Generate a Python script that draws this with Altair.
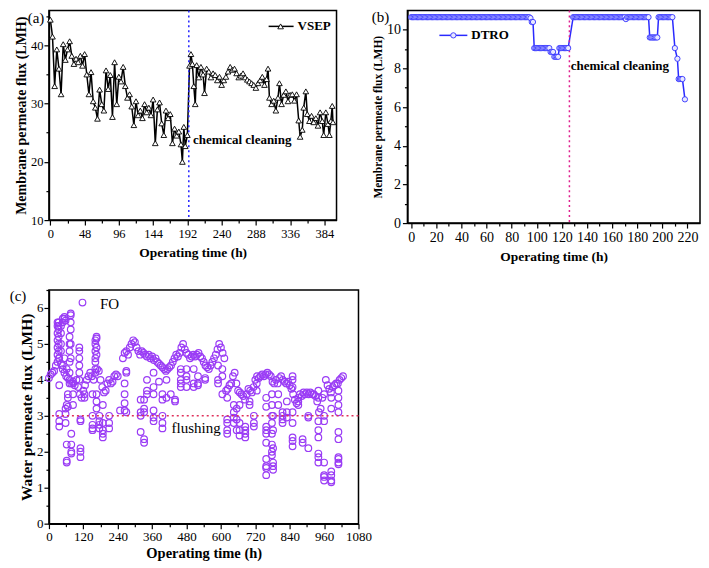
import altair as alt
import pandas as pd

FONT = "Liberation Serif"

# ---------------- Panel (a): VSEP ----------------
vsep_t = [0, 3, 6, 9, 12, 15, 18, 21, 24, 27,
          30, 33, 36, 39, 42, 45, 48, 51, 54, 57,
          60, 63, 66, 69, 72, 75, 78, 81, 84, 87,
          90, 93, 96, 99, 102, 105, 108, 111, 114, 117,
          120, 123, 126, 129, 132, 135, 138, 141, 144, 147,
          150, 153, 156, 159, 162, 165, 168, 171, 174, 177,
          180, 183, 185, 187, 189, 192,
          195, 197, 199, 201, 203, 205, 208, 211, 214, 216,
          219, 222, 225, 228, 231, 234, 237, 240, 243, 246,
          249, 252, 255, 258, 261, 264, 267, 270, 273, 276,
          279, 282, 285, 288, 291, 294, 297, 300, 303, 305,
          307, 310, 313, 316, 319, 321, 324, 327, 330, 333,
          336, 339, 342, 345, 348, 350, 353, 355, 358, 360,
          363, 366, 369, 372, 375, 378, 381, 383, 386, 389,
          391, 393, 395, 396]
vsep_v = [44.4, 41.5, 33.0, 39.3, 36.0, 31.6, 40.2, 37.5, 39.3, 40.7,
          38.2, 36.8, 37.7, 37.1, 38.2, 36.5, 38.5, 35.0, 31.6, 35.4,
          30.4, 29.3, 27.4, 32.4, 29.9, 28.8, 35.7, 32.5, 34.9, 27.7,
          37.1, 29.9, 34.6, 33.8, 36.3, 33.0, 31.0, 31.6, 29.5, 26.3,
          30.4, 28.0, 28.8, 27.5, 29.9, 28.5, 29.3, 28.0, 30.7, 23.2,
          29.0, 30.2, 26.6, 24.6, 28.8, 27.5, 28.2, 23.2, 25.7, 24.5,
          25.2, 23.0, 20.0, 26.0, 22.7, 24.6,
          36.5, 38.5, 36.8, 33.0, 29.9, 36.6, 34.5, 36.3, 35.0, 31.8,
          36.0, 35.5, 34.5, 35.2, 34.9, 34.0, 34.6, 33.2, 34.0, 34.6,
          35.5, 36.3, 35.8, 36.0, 35.2, 34.5, 34.8, 35.2, 34.5, 34.1,
          33.8, 33.5, 33.2, 32.7, 33.5, 34.0, 34.6, 33.2, 34.2, 36.0,
          31.0, 29.9, 30.5, 28.8, 31.0, 33.5, 29.9, 31.5, 32.1, 30.4,
          31.5, 31.6, 30.5, 31.6, 27.1, 24.3, 25.5, 29.3, 32.1, 28.2,
          27.0, 27.9, 26.8, 27.5, 26.2, 28.5, 27.0, 24.6, 28.5, 26.5,
          24.6, 27.0, 29.6, 26.8]
vsep_cleaning_t = [194]

# ---------------- Panel (b): DTRO (runs of equal readings, hourly) ----------------
dtro_run_start = [0, 95, 96, 98, 111, 114, 118, 129, 171, 172, 190, 197, 210, 212, 213, 218]
dtro_run_end = [94, 95, 97, 110, 113, 117, 125, 170, 171, 189, 196, 208, 210, 212, 216, 218]
dtro_run_value = [10.65, 10.6, 10.4, 9.05, 8.85, 8.6, 9.05, 10.65, 10.55, 10.65, 9.6, 10.65,
                  9.05, 8.5, 7.45, 6.4]
dtro_cleaning_t = [126]

# ---------------- Panel (c): FO ----------------
# main band, readings every 6 h (None = no reading)
fo_band_v = [4.05, 4.15, 4.2, 4.25, 4.4, 4.5, 4.6, 4.45, 4.3, 4.2,
             4.1, 4.05, 4.0, 3.9, 3.95, 3.85, 4.0, 3.8, 3.6, 3.5,
             3.7, 3.85, 4.0, 4.1, 4.2, 4.1, 4.0, 4.2, 4.3, 4.25,
             4.0, 3.8, 3.65, 3.7, 3.9, 4.0, 3.9, 3.95, 4.1, 4.15,
             4.1, None, None, 4.6, 4.75, 4.8, 4.7, 4.9, 5.0, 5.1,
             5.05, 4.9, 4.8, 4.7, 4.8, 4.75, 4.7, 4.65, 4.7, 4.6,
             4.65, 4.55, 4.6, 4.5, 4.45, 4.4, 4.35, 4.3, 4.25, 4.3,
             4.35, 4.4, 4.5, 4.6, 4.7, 4.65, 4.75, 4.9, 5.0, 4.85,
             4.75, 4.7, 4.6, 4.65, 4.7, 4.65, 4.7, 4.75, 4.65, 4.6,
             4.5, 4.4, 4.35, 4.3, 4.4, 4.5, 4.6, 4.7, 4.85, 5.0,
             4.9, 4.75, 4.6, 3.7, 3.75, 3.85, 3.9, 4.1, 4.2, 3.9,
             3.7, 3.65, 3.6, 3.55, 3.45, 3.6, 3.75, 3.7, 3.65, 3.8,
             4.0, 4.1, 4.05, 4.1, 4.15, 4.1, 4.15, 4.2, 4.15, 4.1,
             3.95, 3.9, 4.0, 3.9, 4.05, 4.1, 4.0, 3.95, 3.9, 3.95,
             3.85, 3.75, 3.6, 3.45, 3.35, 3.5, 3.6, 3.55, 3.65, 3.6,
             3.65, 3.6, 3.65, 3.6, 3.6, 3.55, 3.4, 3.1, 3.2, 3.5,
             3.6, 4.0, 3.85, 3.75, 3.65, 3.8, 3.85, 3.9, 3.9, 4.0,
             4.05, 4.1]
fo_band_step = 6

# scattered readings (time, values)
fo_scatter = [
    (30, [4.7, 4.9, 5.1, 5.3, 5.5, 5.6]),
    (34, [4.6, 4.8, 5.0, 5.2, 5.4, 5.6, 5.5]),
    (36, [3.85, 3.05, 2.85, 2.7]),
    (42, [5.3, 5.5, 5.0, 4.8]),
    (48, [5.6, 5.7, 4.4]),
    (54, [5.75, 5.7, 4.6]),
    (58, [5.65, 3.2, 3.05, 2.8]),
    (62, [3.3, 2.2, 1.75, 1.7, 4.3]),
    (66, [3.6, 3.5, 3.25]),
    (72, [3.9, 4.2, 4.5, 4.8, 5.0, 5.2]),
    (76, [5.4, 5.6, 5.8, 5.85, 5.0, 4.6]),
    (78, [2.5, 2.2, 2.0, 1.95]),
    (84, [3.3, 3.6, 3.9]),
    (106, [4.9, 4.8, 4.6, 4.4, 4.2, 4.0]),
    (110, [2.9, 2.85, 2.1, 2.0, 1.85]),
    (117, [6.15]),
    (124, [3.5, 3.6]),
    (152, [3.6, 3.0, 2.75, 2.65, 2.6]),
    (162, [5.1, 5.0, 4.8, 4.6, 4.5, 4.3]),
    (166, [5.2, 5.15, 4.9, 4.7, 3.6, 3.4, 3.2]),
    (176, [3.0, 2.85, 2.75, 2.65]),
    (188, [2.8, 2.6, 2.5, 2.4, 3.3]),
    (210, [3.0, 2.8, 2.65]),
    (248, [3.15]),
    (264, [3.9, 3.6, 3.35, 3.15]),
    (270, [4.25, 4.2, 3.1]),
    (320, [3.45, 3.1, 3.0, 2.55]),
    (332, [3.45, 3.2, 3.1, 2.35, 2.25]),
    (342, [4.0, 3.7, 3.6]),
    (365, [4.2, 3.8, 3.6, 3.15, 2.95, 2.85]),
    (384, [3.95]),
    (396, [3.6, 3.45, 3.0, 2.8, 2.65]),
    (410, [4.0, 3.5]),
    (425, [3.6]),
    (440, [3.45, 3.4]),
    (460, [4.3, 4.2, 4.0, 3.9, 3.8]),
    (480, [4.3, 4.1, 4.0, 3.8]),
    (505, [4.3, 3.9, 3.8]),
    (520, [4.1, 3.9, 3.85]),
    (545, [4.05, 4.0]),
    (590, [4.4, 4.0, 3.9]),
    (605, [4.3, 4.1, 3.6]),
    (622, [3.5, 2.9, 2.8, 2.6, 2.5]),
    (645, [3.3, 3.1, 2.95, 2.8]),
    (655, [3.2, 2.9, 2.6]),
    (665, [3.3, 2.8, 2.6, 2.45]),
    (685, [2.7, 2.6, 2.5, 2.4]),
    (700, [3.4, 3.3]),
    (715, [3.0, 2.8, 2.7]),
    (725, [3.9, 3.7]),
    (758, [3.5, 3.25, 2.7, 2.6, 2.5, 2.25, 1.8, 1.6, 1.55, 1.35]),
    (778, [3.6, 3.3, 3.0, 2.8, 2.5, 2.2, 2.0, 1.9]),
    (782, [1.7, 1.5, 1.6, 2.1, 2.6, 3.0]),
    (800, [3.6, 3.3]),
    (815, [3.1, 3.0, 2.9, 2.8]),
    (830, [3.4, 3.1, 2.95]),
    (850, [3.1, 2.8, 2.4, 2.3, 2.15, 3.8, 4.0, 4.1]),
    (870, [3.4, 3.3]),
    (885, [2.35, 2.25]),
    (905, [2.95, 3.0, 2.1]),
    (940, [2.85, 2.6, 2.4, 1.95, 1.85, 1.7, 3.7, 3.5]),
    (960, [3.0, 2.85, 1.7, 1.35, 1.2, 1.3]),
    (985, [3.5, 3.2, 1.45, 1.35, 1.2, 1.15]),
    (1010, [2.55, 2.35, 1.85, 1.8, 1.7, 1.65, 3.1, 3.3, 3.5, 3.7]),
]
fo_flushing_v = [3.0]

# ---------------- tables ----------------
df_a = pd.DataFrame({"t": vsep_t, "v": vsep_v})

b_t, b_v = [], []
for s, e, val in zip(dtro_run_start, dtro_run_end, dtro_run_value):
    for h in range(s, e + 1):
        b_t.append(h)
        b_v.append(val)
df_b = pd.DataFrame({"t": b_t, "v": b_v})

c_rows = []
for i, val in enumerate(fo_band_v):
    if val is not None:
        c_rows.append({"t": i * fo_band_step, "v": val})
for t, vals in fo_scatter:
    for val in vals:
        c_rows.append({"t": t, "v": val})
df_c = pd.DataFrame(c_rows)


def axis(major_vals, title, label_size, title_size, title_pad, label_pad, fmt):
    return alt.Axis(
        values=major_vals, title=title, format=fmt,
        labelFontSize=label_size, titleFontSize=title_size,
        titlePadding=title_pad, labelPadding=label_pad,
        tickSize=5, labelOverlap=False, labelFlush=False, grid=False,
    )


def minor_axis(minor_vals, orient):
    return alt.Axis(values=minor_vals, orient=orient, labels=False, title=None,
                    domain=False, tickSize=3, grid=False)


def minor_layers(xfield_scale, yfield_scale, xminor, yminor, df):
    return alt.Chart(df).mark_point(opacity=0).encode(
        x=alt.X("t:Q", scale=xfield_scale, axis=minor_axis(xminor, "bottom")),
        y=alt.Y("v:Q", scale=yfield_scale, axis=minor_axis(yminor, "left")))


def panel(layers, minor, w, h):
    main = alt.layer(*layers)
    return alt.layer(main, minor).resolve_axis(x="independent", y="independent").properties(
        width=w, height=h)


# ---------------- panel a ----------------
sx_a = alt.Scale(domain=[-2, 401], nice=False, zero=False)
sy_a = alt.Scale(domain=[10, 46], nice=False, zero=False)
xa = alt.X("t:Q", scale=sx_a,
           axis=axis(list(range(0, 400, 48)), "Operating time (h)", 12.5, 13.5, 6, 2, "d"))
ya = alt.Y("v:Q", scale=sy_a,
           axis=axis(list(range(10, 46, 10)), "Membrane permeate flux (LMH)", 12.5, 14, 2, 1, "d"))

a_line = alt.Chart(df_a).mark_line(color="black", strokeWidth=1.5).encode(x=xa, y=ya)
a_pts = alt.Chart(df_a).mark_point(shape="triangle-up", filled=True, fill="white", stroke="black",
                                   strokeWidth=0.9, size=32, opacity=1).encode(x=xa, y=ya)
a_rule = alt.Chart(pd.DataFrame({"t": vsep_cleaning_t})).mark_rule(
    color="#2323ff", strokeDash=[2, 3], strokeWidth=1.5).encode(x=xa)
a_txt = alt.Chart(pd.DataFrame({"t": [200], "v": [23.8], "s": ["chemical cleaning"]})).mark_text(
    font=FONT, fontSize=13, fontWeight="bold", align="left", baseline="middle", color="black"
).encode(x=xa, y=ya, text="s:N")
a_leg_line = alt.Chart().mark_rule(color="black", strokeWidth=1.5).encode(
    x=alt.value(220), x2=alt.value(245), y=alt.value(16))
a_leg_pt = alt.Chart().mark_point(shape="triangle-up", filled=True, fill="white", stroke="black",
                                  strokeWidth=0.9, size=32, opacity=1).encode(x=alt.value(232), y=alt.value(16))
a_leg_txt = alt.Chart().mark_text(font=FONT, fontSize=13, fontWeight="bold", align="left",
                                  baseline="middle").encode(x=alt.value(249), y=alt.value(16), text=alt.value("VSEP"))
a_lab = alt.Chart().mark_text(font=FONT, fontSize=15, align="center", baseline="middle").encode(
    x=alt.value(-13), y=alt.value(8), text=alt.value("(a)"))

panel_a = panel([a_line, a_rule, a_pts, a_txt, a_leg_line, a_leg_pt, a_leg_txt, a_lab],
                minor_layers(sx_a, sy_a, list(range(24, 400, 48)), list(range(15, 46, 10)), df_a),
                288, 210)

# ---------------- panel b ----------------
sx_b = alt.Scale(domain=[-3, 230], nice=False, zero=False)
sy_b = alt.Scale(domain=[0, 11], nice=False, zero=False)
xb = alt.X("t:Q", scale=sx_b,
           axis=axis(list(range(0, 230, 20)), "Operating time (h)", 14, 13.5, 5, 2, "d"))
yb = alt.Y("v:Q", scale=sy_b,
           axis=axis(list(range(0, 11, 2)), "Membrane permeate flux (LMH)", 14, 11.5, 3, 2, "d"))

b_line = alt.Chart(df_b).mark_line(color="#2a2aff", strokeWidth=1.5).encode(x=xb, y=yb)
b_pts = alt.Chart(df_b).mark_point(shape="circle", filled=True, fill="#e8e8ff", stroke="#3434ff",
                                   strokeWidth=0.9, size=28, opacity=1).encode(x=xb, y=yb)
b_rule = alt.Chart(pd.DataFrame({"t": dtro_cleaning_t})).mark_rule(
    color="#e0208f", strokeDash=[2, 3], strokeWidth=1.5).encode(x=xb)
b_txt = alt.Chart(pd.DataFrame({"t": [127], "v": [8.1], "s": ["chemical cleaning"]})).mark_text(
    font=FONT, fontSize=13, fontWeight="bold", align="left", baseline="middle", color="black"
).encode(x=xb, y=yb, text="s:N")
b_leg_line = alt.Chart().mark_rule(color="#2a2aff", strokeWidth=1.5).encode(
    x=alt.value(32), x2=alt.value(60), y=alt.value(25))
b_leg_pt = alt.Chart().mark_point(shape="circle", filled=True, fill="#e8e8ff", stroke="#3434ff",
                                  strokeWidth=0.9, size=28, opacity=1).encode(x=alt.value(46), y=alt.value(25))
b_leg_txt = alt.Chart().mark_text(font=FONT, fontSize=13, fontWeight="bold", align="left",
                                  baseline="middle").encode(x=alt.value(64), y=alt.value(25), text=alt.value("DTRO"))
b_lab = alt.Chart().mark_text(font=FONT, fontSize=15, align="center", baseline="middle").encode(
    x=alt.value(-27), y=alt.value(7), text=alt.value("(b)"))

panel_b = panel([b_line, b_rule, b_pts, b_txt, b_leg_line, b_leg_pt, b_leg_txt, b_lab],
                minor_layers(sx_b, sy_b, list(range(10, 230, 20)), list(range(1, 11, 2)), df_b),
                293, 213)

# ---------------- panel c ----------------
sx_c = alt.Scale(domain=[0, 1080], nice=False, zero=False)
sy_c = alt.Scale(domain=[0, 6.5], nice=False, zero=False)
xc = alt.X("t:Q", scale=sx_c,
           axis=axis(list(range(0, 1081, 120)), "Operating time (h)", 13, 14.5, 3, 2, "d"))
yc = alt.Y("v:Q", scale=sy_c,
           axis=axis(list(range(0, 7)), "Water permeate flux (LMH)", 13, 15.5, 2, 1, "d"))

c_pts = alt.Chart(df_c).mark_point(shape="circle", filled=False, stroke="#9a3cf5", strokeWidth=1.2,
                                   size=44, opacity=1).encode(x=xc, y=yc)
c_rule = alt.Chart(pd.DataFrame({"v": fo_flushing_v})).mark_rule(
    color="#e0305a", strokeDash=[2, 3], strokeWidth=1.5).encode(y=yc)
c_txt = alt.Chart(pd.DataFrame({"t": [178, 428], "v": [6.12, 2.65], "s": ["FO", "flushing"]})).mark_text(
    font=FONT, fontSize=15, align="left", baseline="middle", color="black"
).encode(x=xc, y=yc, text="s:N")
c_lab = alt.Chart().mark_text(font=FONT, fontSize=15, align="center", baseline="middle").encode(
    x=alt.value(-31), y=alt.value(6), text=alt.value("(c)"))

panel_c = panel([c_pts, c_rule, c_txt, c_lab],
                minor_layers(sx_c, sy_c, list(range(60, 1081, 120)), [i + 0.5 for i in range(0, 7)], df_c),
                310, 234)

top = alt.hconcat(panel_a, panel_b, spacing=32)
chart = alt.vconcat(top, panel_c, spacing=24).configure(
    font=FONT, padding=0
).configure_view(
    stroke="black", strokeWidth=1.5
).configure_axis(
    labelFont=FONT, titleFont=FONT, titleFontWeight="bold", labelColor="black", titleColor="black",
    domainColor="black", domainWidth=1.5, tickColor="black", tickWidth=1.2
)

chart.save("out.html", embed_options={"renderer": "svg", "actions": False})
